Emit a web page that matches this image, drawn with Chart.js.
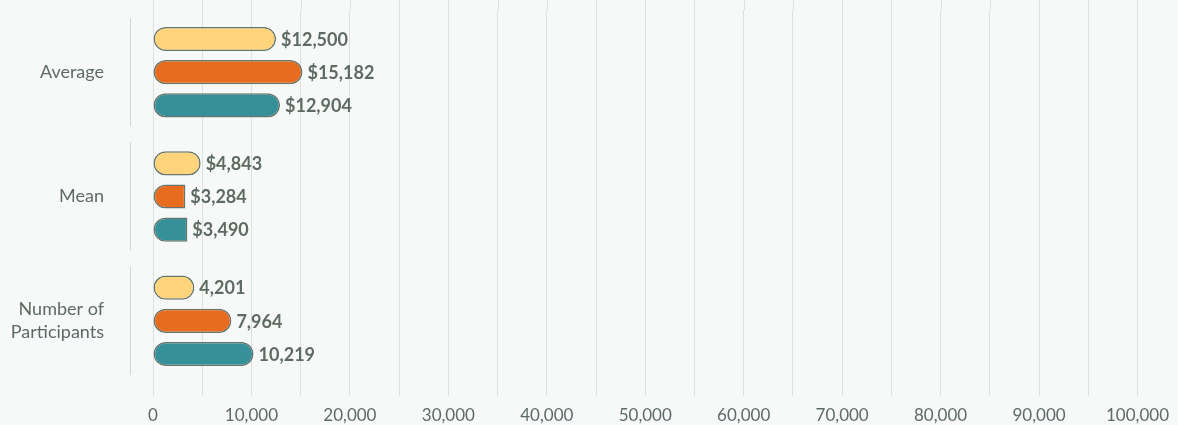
<!DOCTYPE html>
<html>
<head>
<meta charset="utf-8">
<script src="https://cdn.jsdelivr.net/npm/chart.js@4/dist/chart.umd.min.js"></script>
<style>
  html, body { margin: 0; padding: 0; background: #f6f9f8; overflow: hidden; }
  canvas { display: block; }
</style>
</head>
<body>
<canvas id="chart" width="1178" height="425"></canvas>
<script>
// Categories (rows) and the three series compared in each row
const categories = ['Average', 'Mean', ['Number of', 'Participants']];
const seriesA = [12500, 4843, 4201];
const seriesB = [15182, 3284, 7964];
const seriesC = [12904, 3490, 10219];
const seriesNames = ['Group 1', 'Group 2', 'Group 3'];
const valuePrefixes = ['$', '$', ''];
const xTicks = [0, 10000, 20000, 30000, 40000, 50000, 60000, 70000, 80000, 90000, 100000];

const TEXT = '#5e6b62';
const GRID = '#dde1df';
const EDGE = '#67766c';
const FILLS = ['#ffd47a', '#e86c20', '#35909a'];

const fmt = v => v.toLocaleString('en-US');

// pill ends; very short bars keep only the rounded left end
const radius = c => {
  const v = c.raw;
  if (v !== undefined && v < 4000) {
    return { topLeft: 12, bottomLeft: 12, topRight: 0, bottomRight: 0 };
  }
  return 12;
};

const background = {
  id: 'background',
  beforeDraw(chart) {
    const { ctx, width, height } = chart;
    ctx.save();
    ctx.fillStyle = '#f6f9f8';
    ctx.fillRect(0, 0, width, height);
    ctx.restore();
  }
};

// carries the vertical grid up to the top edge and draws the row separators
const frame = {
  id: 'frame',
  beforeDatasetsDraw(chart) {
    const { ctx, chartArea, scales } = chart;
    const x = scales.x, y = scales.y;
    ctx.save();
    ctx.strokeStyle = GRID;
    ctx.lineWidth = 1;
    x.ticks.forEach(t => {
      const px = Math.round(x.getPixelForValue(t.value)) + 0.5;
      ctx.beginPath();
      ctx.moveTo(px, 0);
      ctx.lineTo(px, chartArea.top);
      ctx.stroke();
    });
    const half = (y.getPixelForValue(1) - y.getPixelForValue(0)) / 2;
    const sx = Math.round(chartArea.left - 23) + 0.5;
    ctx.strokeStyle = '#d2d7d4';
    categories.forEach((c, i) => {
      const cy = y.getPixelForValue(i);
      ctx.beginPath();
      ctx.moveTo(sx, cy - half + 8);
      ctx.lineTo(sx, cy + half - 8);
      ctx.stroke();
    });
    ctx.restore();
  }
};

const valueLabels = {
  id: 'valueLabels',
  afterDatasetsDraw(chart) {
    const { ctx } = chart;
    ctx.save();
    ctx.font = 'bold 18px Lato';
    ctx.fillStyle = TEXT;
    ctx.textAlign = 'left';
    ctx.textBaseline = 'middle';
    chart.data.datasets.forEach((ds, di) => {
      const meta = chart.getDatasetMeta(di);
      meta.data.forEach((bar, i) => {
        const txt = valuePrefixes[i] + fmt(ds.data[i]);
        ctx.fillText(txt, bar.x + 5, bar.y + 1);
      });
    });
    ctx.restore();
  }
};

const mk = (name, data, color) => ({
  label: name,
  data: data,
  backgroundColor: color,
  borderColor: EDGE,
  borderWidth: 1.5,
  borderSkipped: false,
  borderRadius: radius,
  categoryPercentage: 0.8,
  barPercentage: 0.73
});

new Chart(document.getElementById('chart'), {
  type: 'bar',
  data: {
    labels: categories,
    datasets: [
      mk(seriesNames[0], seriesA, FILLS[0]),
      mk(seriesNames[1], seriesB, FILLS[1]),
      mk(seriesNames[2], seriesC, FILLS[2])
    ]
  },
  options: {
    indexAxis: 'y',
    responsive: false,
    animation: false,
    layout: { padding: { top: 10, right: 39, left: 0, bottom: 0 } },
    plugins: {
      legend: { display: false },
      tooltip: { enabled: false }
    },
    scales: {
      x: {
        min: 0,
        max: 100000,
        afterBuildTicks: s => {
          const ticks = [];
          for (let i = 0; i < xTicks.length; i++) {
            ticks.push({ value: xTicks[i] });
            if (i < xTicks.length - 1) ticks.push({ value: (xTicks[i] + xTicks[i + 1]) / 2 });
          }
          s.ticks = ticks;
        },
        afterFit: s => { s.height = 42; },
        border: { display: false },
        grid: { color: GRID, lineWidth: 1, drawTicks: true, tickLength: 13, tickColor: GRID },
        ticks: {
          autoSkip: false,
          maxRotation: 0,
          padding: 9,
          color: TEXT,
          font: { family: 'Lato', size: 17 },
          callback: v => xTicks.includes(v) ? fmt(v) : ''
        }
      },
      y: {
        afterFit: s => {
          s.width = 153;
          s.paddingTop = 0;
          s.paddingBottom = 0;
        },
        border: { display: false },
        grid: { display: false, drawTicks: false },
        ticks: {
          padding: 49,
          color: TEXT,
          font: { family: 'Lato', size: 18, lineHeight: 1.28 }
        }
      }
    }
  },
  plugins: [background, frame, valueLabels]
});
</script>
</body>
</html>
